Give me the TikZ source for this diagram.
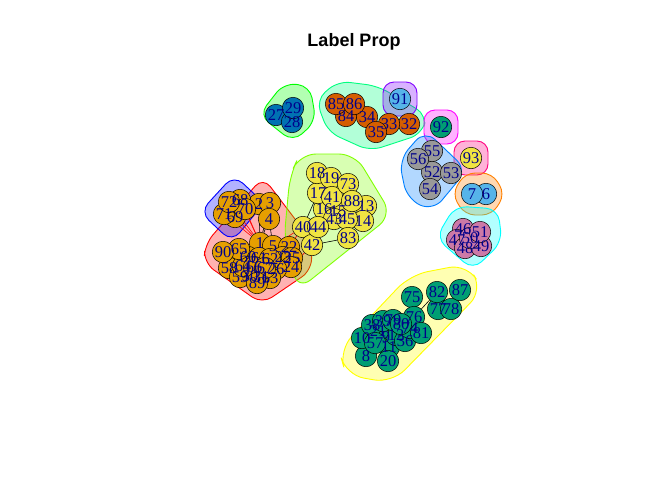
\documentclass[tikz,border=0pt]{standalone}
\usepackage{fontspec}
\setmainfont{Liberation Serif}
\newfontfamily\titlefont{Liberation Sans}
\definecolor{vO}{HTML}{E69F00}
\definecolor{vY}{HTML}{F0E442}
\definecolor{vT}{HTML}{009E73}
\definecolor{vB}{HTML}{0072B2}
\definecolor{vV}{HTML}{D55E00}
\definecolor{vS}{HTML}{56B4E9}
\definecolor{vG}{HTML}{999999}
\definecolor{vP}{HTML}{CC79A7}
\definecolor{labblue}{HTML}{00008B}
\definecolor{h1}{HTML}{FF0000}
\definecolor{h2}{HTML}{FF8000}
\definecolor{h3}{HTML}{FFFF00}
\definecolor{h4}{HTML}{80FF00}
\definecolor{h5}{HTML}{00FF00}
\definecolor{h6}{HTML}{00FF80}
\definecolor{h7}{HTML}{00FFFF}
\definecolor{h8}{HTML}{0080FF}
\definecolor{h9}{HTML}{0000FF}
\definecolor{h10}{HTML}{8000FF}
\definecolor{h11}{HTML}{FF00FF}
\definecolor{h12}{HTML}{FF0080}
\pgfdeclarelayer{paper}
\pgfdeclarelayer{hulls}
\pgfdeclarelayer{edges}
\pgfsetlayers{paper,hulls,edges,main}
\def\vlist{%
2/259/204/vO,3/270/203/vO,4/269/219/vO,1/260/243/vO,5/273/246/vO,22/289/247/vO,
23/283/257/vO,25/292/258/vO,24/291/267/vO,26/276/269/vO,30/250/276/vO,31/261/277/vO,
58/229/268/vO,59/240/277/vO,60/248/257/vO,61/259/258/vO,62/270/259/vO,63/270/278/vO,
64/243/266/vO,65/239/249/vO,66/254/267/vO,67/265/268/vO,
68/240/200/vO,69/235/217/vO,70/245/209/vO,71/224/214/vO,72/229/202/vO,89/257/283/vO,90/223/252/vO,
13/366/206/vY,14/363/221/vY,15/338/211/vY,16/324/209/vY,17/318/193/vY,18/317/173/vY,19/331/178/vY,
40/303/227/vY,41/332/197/vY,42/312/245/vY,43/334/219/vY,44/318/227/vY,45/347/219/vY,
73/348/184/vY,83/348/238/vY,88/352/201/vY,93/471/158/vY,
8/366/356/vT,9/386/337/vT,10/362/338/vT,11/389/347/vT,12/396/335/vT,20/388/361/vT,21/378/331/vT,
36/405/341/vT,38/372/325/vT,39/383/321/vT,57/375/343/vT,74/410/328/vT,75/412/297/vT,76/414/317/vT,
77/438/309/vT,78/451/309/vT,79/393/320/vT,80/401/324/vT,81/421/333/vT,82/437/292/vT,87/460/290/vT,92/441/127/vT,
27/276/115/vB,28/292/122/vB,29/293/108/vB,
32/409/124/vV,33/389/124/vV,34/367/117/vV,35/376/132/vV,84/346/116/vV,85/336/104/vV,86/354/104/vV,
6/486/194/vS,7/472/194/vS,91/400/99/vS,
52/432/172/vG,53/451/173/vG,54/430/189/vG,55/432/151/vG,56/418/159/vG,
46/463/229/vP,47/457/240/vP,48/465/248/vP,49/481/246/vP,50/470/238/vP,51/480/232/vP}
\begin{document}
\begin{tikzpicture}[x=1pt,y=-1pt,
  vtx/.style={circle,draw=black,line width=0.5pt,minimum size=21.5pt,inner sep=0pt},
  lab/.style={inner sep=0pt,text=labblue,font=\fontsize{16.5}{16.5}\selectfont},
  hull/.style={draw=#1,fill=#1,fill opacity=0.3,line width=0.9pt},
  eb/.style={draw=black,line width=0.6pt},
  er/.style={draw=red,line width=0.6pt}]
\begin{pgfonlayer}{paper}
\fill[white] (0,0) rectangle (672,480);
\end{pgfonlayer}
\useasboundingbox (0,0) rectangle (672,480);
\node[font=\titlefont\bfseries\fontsize{18}{18}\selectfont] (title) at (354,42) {Label Prop};
% vertices
\foreach \n/\x/\y/\c in \vlist { \node[vtx,fill=\c] (v\n) at (\x,\y) {}; }
\foreach \n/\x/\y/\c in \vlist { \node[lab] (l\n) at (v\n) {\n}; }
% hulls
\begin{pgfonlayer}{hulls}
\path[hull=h1,rounded corners=12] (263,177) -- (311,240) -- (312,270) -- (262,304) -- (204,263) -- (205,244) -- cycle;
\path[hull=h9,rounded corners=12] (234,175) -- (264,203) -- (232,242) -- (200,212) -- cycle;
\path[hull=h4,rounded corners=16] (300,154) -- (355,154) -- (392,215) -- (298,290) -- (284,240) -- (290,175) -- cycle;
\path[hull=h5,rounded corners=12] (259,115) -- (284,83) -- (310,86) -- (316,121) -- (293,142) -- cycle;
\path[hull=h6,rounded corners=12] (316,100) -- (338,81) -- (378,86) -- (427,115) -- (422,134) -- (370,151) -- (328,132) -- cycle;
\path[hull=h10,rounded corners=11] (383,82) -- (417,82) -- (417,116) -- (383,116) -- cycle;
\path[hull=h11,rounded corners=11] (424,110) -- (458,110) -- (458,144) -- (424,144) -- cycle;
\path[hull=h12,rounded corners=11] (454,141) -- (488,141) -- (488,175) -- (454,175) -- cycle;
\path[hull=h8,rounded corners=14] (399,160) -- (425,130) -- (467,170) -- (433,211) -- (407,199) -- cycle;
\path[hull=h2,rounded corners=10] (452,194) -- (465,173) -- (492,173) -- (505,194) -- (492,215) -- (465,215) -- cycle;
\path[hull=h7,rounded corners=12] (436,238) -- (455,206) -- (498,209) -- (502,242) -- (473,270) -- cycle;
\path[hull=h3,rounded corners=18] (339,350) -- (410,275) -- (467,264) -- (483,290) -- (392,383) -- (346,375) -- cycle;
\end{pgfonlayer}
% edges
\begin{pgfonlayer}{edges}
\draw[eb] (v2) -- (v1);
\draw[eb] (v3) -- (v1);
\draw[eb] (v4) -- (v1);
\draw[eb] (v4) -- (v5);
\draw[er] (v68) -- (v1);
\draw[er] (v69) -- (v1);
\draw[er] (v70) -- (v1);
\draw[er] (v71) -- (v1);
\draw[er] (v72) -- (v1);
\draw[er] (v5) -- (v40);
\draw[er] (v22) -- (v40);
\draw[er] (v24) -- (v42);
\draw[eb] (v17) -- (v40);
\draw[eb] (v42) -- (v83);
\draw[eb] (v44) -- (v43);
\draw[eb] (v82) -- (v76);
\draw[eb] (v82) -- (v77);
\draw[eb] (v87) -- (v78);
\end{pgfonlayer}
\end{tikzpicture}
\end{document}
